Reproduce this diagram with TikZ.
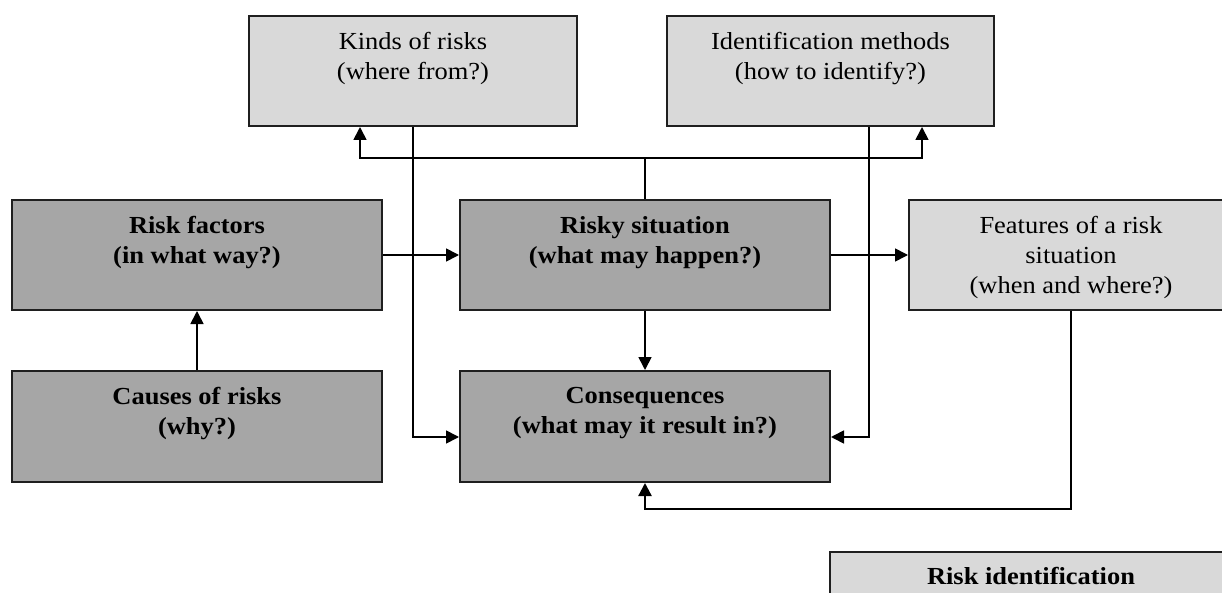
\documentclass[tikz,border=0pt]{standalone}
\usepackage{fontspec}
\setmainfont{Liberation Serif}[FakeStretch=1.08]
\usetikzlibrary{arrows.meta}
\definecolor{darkfill}{HTML}{A6A6A6}
\definecolor{lightfill}{HTML}{D9D9D9}
\definecolor{boxline}{HTML}{1F1F1F}
\tikzset{
  box/.style={draw=boxline, line width=2pt, inner sep=0pt, anchor=north west},
  darkbox/.style={box, fill=darkfill},
  lightbox/.style={box, fill=lightfill},
  txt/.style={anchor=north, align=center, inner sep=0pt, text=black,
              font=\fontsize{24.5}{30}\selectfont},
  boldtxt/.style={txt, font=\fontsize{24.5}{30}\selectfont\bfseries},
  conn/.style={line width=1.7pt, draw=black},
  arr/.style={conn, -{Triangle[length=13pt,width=13pt]}},
}
\begin{document}
\begin{tikzpicture}[x=1pt,y=-1pt]
\useasboundingbox (0,0) rectangle (1222,593);
\fill[white] (0,0) rectangle (1222,593);
\clip (0,0) rectangle (1222,593);

% boxes
\node[lightbox, minimum width=328pt, minimum height=110pt] (kinds)  at (248,15) {};
\node[lightbox, minimum width=327pt, minimum height=110pt] (ident)  at (666,15) {};
\node[darkbox,  minimum width=370pt, minimum height=110pt] (rf)     at (11,199) {};
\node[darkbox,  minimum width=370pt, minimum height=110pt] (rs)     at (459,199) {};
\node[lightbox, minimum width=324pt, minimum height=110pt] (feat)   at (908,199) {};
\node[darkbox,  minimum width=370pt, minimum height=111pt] (causes) at (11,370) {};
\node[darkbox,  minimum width=370pt, minimum height=111pt] (cons)   at (459,370) {};
\node[lightbox, minimum width=402pt, minimum height=110pt] (riskid) at (829,551) {};

% box texts
\node[txt]     (kinds-t)  at ([yshift=-17pt]kinds.north)  {Kinds of risks\\(where from?)};
\node[txt]     (ident-t)  at ([yshift=-17pt]ident.north)  {Identification methods\\(how to identify?)};
\node[boldtxt] (rf-t)     at ([yshift=-17pt]rf.north)     {Risk factors\\(in what way?)};
\node[boldtxt] (rs-t)     at ([yshift=-17pt]rs.north)     {Risky situation\\(what may happen?)};
\node[txt]     (feat-t)   at ([yshift=-17pt]feat.north)   {Features of a risk\\situation\\(when and where?)};
\node[boldtxt] (causes-t) at ([yshift=-17pt]causes.north) {Causes of risks\\(why?)};
\node[boldtxt] (cons-t)   at ([yshift=-17pt]cons.north)   {Consequences\\(what may it result in?)};
\node[boldtxt] (riskid-t) at ([yshift=-16pt]riskid.north) {Risk identification};

% connectors
\coordinate (hub) at (rs.north |- 0,158);
\draw[conn] (rs.north) -- (hub);
\draw[arr] (hub) -| ([xshift=-53pt]kinds.south);
\draw[arr] (hub) -| ([xshift=91.5pt]ident.south);
\draw[arr] (rf.east) -- (rs.west);
\draw[arr] (rs.east) -- (feat.west);
\draw[arr] (causes.north) -- (rf.south);
\draw[arr] (rs.south) -- (cons.north);
\draw[arr] (kinds.south) |- ([yshift=-10.5pt]cons.west);
\draw[arr] ([xshift=38.5pt]ident.south) |- ([yshift=-10.5pt]cons.east);
\draw[arr, line width=2.3pt] (feat.south) -- (feat.south |- 0,509) -| (cons.south);
\end{tikzpicture}
\end{document}
